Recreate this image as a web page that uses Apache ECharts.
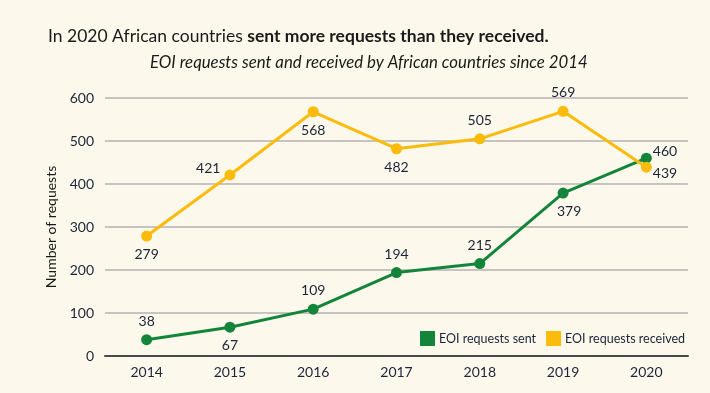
<!DOCTYPE html>
<html><head><meta charset="utf-8">
<script src="https://cdn.jsdelivr.net/npm/echarts@6/dist/echarts.min.js"></script>
<style>html,body{margin:0;padding:0;background:#fdf8ec;}#c{width:710px;height:393px;}</style>
</head><body><div id="c"></div>
<script>
const years = ['2014','2015','2016','2017','2018','2019','2020'];
const sent = [38, 67, 109, 194, 215, 379, 460];
const received = [279, 421, 568, 482, 505, 569, 439];
const sentLabelPos = ['top','bottom','top','top','top','bottom','right'];
const recvLabelPos = ['bottom','left','bottom','bottom','top','top','right'];
const yTicks = [0,100,200,300,400,500,600];

const FONT = 'Lato';
const GREEN = '#13853b';
const YELLOW = '#fbbb0b';
const TXT = '#1c2438';

function mk(vals, pos, isSent){
  return vals.map((v,i)=>{
    const p = pos[i];
    const lab = {position:p};
    if (p==='left') { lab.offset=[2,-6]; }
    if (p==='right') { lab.offset = isSent? [-2,-7] : [-2,6]; lab.distance=3; }
    if (p==='bottom' && isSent && i===5) lab.offset=[6,0];
    return {value:v, label:lab};
  });
}

const chart = echarts.init(document.getElementById('c'), null, {renderer:'canvas'});
chart.setOption({
  backgroundColor:'#fdf8ec',
  textStyle:{fontFamily:FONT},
  title:[{
    text:'{n|In 2020 African countries }{b|sent more requests than they received.}',
    left:43, top:22,
    textStyle:{fontWeight:'normal',rich:{
      n:{fontFamily:FONT,fontSize:17.5,fontWeight:'normal',color:'#1a1a1a'},
      b:{fontFamily:FONT,fontSize:17.5,fontWeight:'bold',color:'#1a1a1a'}
    }}
  },{
    text:'EOI requests sent and received by African countries since 2014',
    left:145, top:49,
    textStyle:{fontFamily:FONT,fontSize:16.8,fontStyle:'italic',fontWeight:'normal',color:'#1a1a1a'}
  }],
  grid:{left:105,right:22,top:98,bottom:37,containLabel:false},
  legend:{
    right:20, top:326, itemWidth:15, itemHeight:15, itemGap:10,
    icon:'rect',
    textStyle:{fontFamily:FONT,fontSize:12.5,color:TXT,padding:[0,0,0,-1]},
    data:[{name:'EOI requests sent',itemStyle:{color:GREEN}},{name:'EOI requests received',itemStyle:{color:YELLOW}}]
  },
  xAxis:{
    type:'category', data:years, boundaryGap:true,
    axisLine:{lineStyle:{color:'#4a4a4a',width:2}},
    axisTick:{show:false},
    axisLabel:{fontFamily:FONT,fontSize:14,color:TXT,margin:9}
  },
  yAxis:{
    type:'value', min:yTicks[0], max:yTicks[yTicks.length-1], interval:100,
    name:'Number of requests', nameLocation:'middle', nameGap:44, nameRotate:90,
    nameTextStyle:{fontFamily:FONT,fontSize:14,color:'#1a1a1a'},
    axisLine:{show:false}, axisTick:{show:false},
    axisLabel:{fontFamily:FONT,fontSize:14,color:TXT,margin:11},
    splitLine:{lineStyle:{color:'#b3b3b3',width:1.5}}
  },
  series:[{
    name:'EOI requests received', type:'line', data:mk(received,recvLabelPos,false),
    color:YELLOW, lineStyle:{width:3,color:YELLOW}, symbol:'circle', symbolSize:11,
    itemStyle:{color:YELLOW},
    label:{show:true,fontFamily:FONT,fontSize:14,color:TXT,distance:6},
    z:2
  },{
    name:'EOI requests sent', type:'line', data:mk(sent,sentLabelPos,true),
    color:GREEN, lineStyle:{width:3,color:GREEN}, symbol:'circle', symbolSize:11,
    itemStyle:{color:GREEN},
    label:{show:true,fontFamily:FONT,fontSize:14,color:TXT,distance:6},
    z:1
  }]
});
</script></body></html>
